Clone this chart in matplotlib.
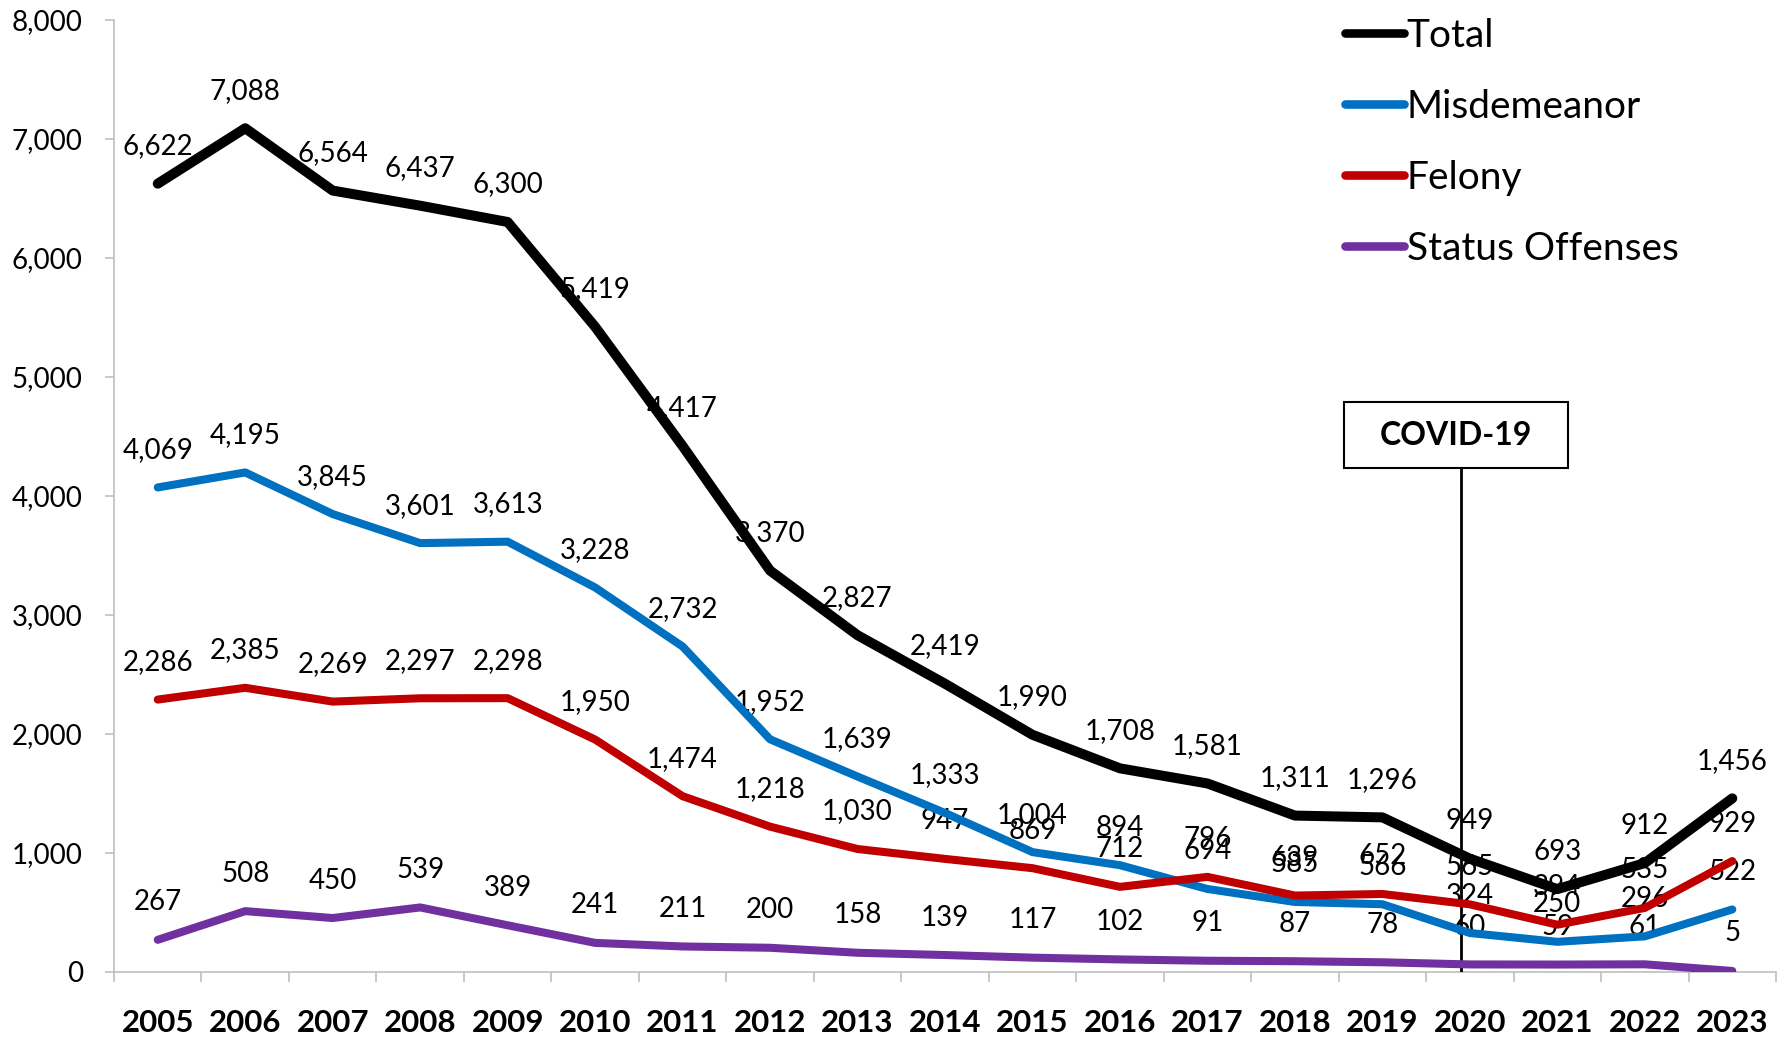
import matplotlib
matplotlib.use("Agg")
import matplotlib.pyplot as plt
from matplotlib.patches import Rectangle
from matplotlib.ticker import FuncFormatter, FixedLocator

plt.rcParams["font.family"] = ["Lato", "DejaVu Sans"]

# === Data ===
years = [str(y) for y in range(2005, 2024)]
total = [6622, 7088, 6564, 6437, 6300, 5419, 4417, 3370, 2827, 2419,
         1990, 1708, 1581, 1311, 1296, 949, 693, 912, 1456]
misdemeanor = [4069, 4195, 3845, 3601, 3613, 3228, 2732, 1952, 1639, 1333,
               1004, 894, 694, 585, 566, 324, 250, 296, 522]
felony = [2286, 2385, 2269, 2297, 2298, 1950, 1474, 1218, 1030, 947,
          869, 712, 796, 639, 652, 565, 394, 535, 929]
status = [267, 508, 450, 539, 389, 241, 211, 200, 158, 139,
          117, 102, 91, 87, 78, 60, 59, 61, 5]

series = [
    ("Total", total, "#000000", 7.2),
    ("Misdemeanor", misdemeanor, "#0070C0", 5.8),
    ("Felony", felony, "#C00000", 5.8),
    ("Status Offenses", status, "#7030A0", 5.8),
]

covid_year = "2020"

fig = plt.figure(figsize=(17.9, 10.38), dpi=100)
ax = fig.add_axes([0.0637, 0.064, 0.9285, 0.917])

x = list(range(len(years)))
zs = {"Total": 8, "Misdemeanor": 6, "Felony": 7, "Status Offenses": 5}
for name, vals, color, lw in series:
    ax.plot(x, vals, color=color, lw=lw, solid_capstyle="round",
            solid_joinstyle="round", label=name, zorder=zs[name])
    for xi, v in zip(x, vals):
        ax.annotate(f"{v:,}", (xi, v), xytext=(0, 27), textcoords="offset points",
                    ha="center", va="center", fontsize=20, color="black", zorder=3)

# COVID-19 marker: vertical rule + boxed caption
cx = years.index(covid_year) - 0.1
box_cx, box_w = cx - 0.06, 2.56
box_lo, box_hi = 4230, 4787
ax.plot([cx, cx], [0, box_lo], color="black", lw=2, zorder=4)
ax.add_patch(Rectangle((box_cx - box_w / 2, box_lo), box_w, box_hi - box_lo,
                       fc="white", ec="black", lw=1.5, zorder=9))
ax.text(box_cx, (box_lo + box_hi) / 2, "COVID-19", ha="center", va="center",
        fontsize=23, fontweight="bold", zorder=10)

ax.set_xlim(-0.5, len(years) - 0.5)
ax.set_ylim(0, 8000)
ax.set_yticks(range(0, 8001, 1000))
ax.yaxis.set_major_formatter(FuncFormatter(lambda v, p: f"{int(v):,}"))
ax.set_xticks(x)
ax.set_xticklabels(years, fontsize=22.5, fontweight="bold")
ax.xaxis.set_minor_locator(FixedLocator([i - 0.5 for i in range(len(years) + 1)]))
ax.tick_params(axis="x", which="major", length=0, pad=27)
ax.tick_params(axis="x", which="minor", length=7, width=1.2, color="#BFBFBF")
ax.tick_params(axis="y", length=6.5, width=1.2, color="#BFBFBF", labelsize=20, pad=16)

for s in ["top", "right"]:
    ax.spines[s].set_visible(False)
for s in ["left", "bottom"]:
    ax.spines[s].set_color("#BFBFBF")
    ax.spines[s].set_linewidth(1.2)

leg = ax.legend(loc="upper left", bbox_to_anchor=(0.7314, 1.0185), frameon=False,
                fontsize=28, handlelength=1.5, handletextpad=0.08,
                labelspacing=0.9, borderaxespad=0)
for h in leg.get_lines():
    h.set_linewidth(6.2)

fig.savefig("out.png", dpi=100)
